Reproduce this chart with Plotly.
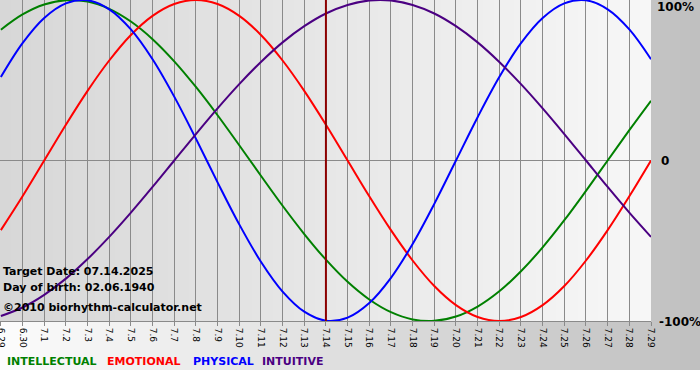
import plotly.graph_objects as go

# ---- data ----
days = ["6.29", "6.30", "7.1", "7.2", "7.3", "7.4", "7.5", "7.6", "7.7", "7.8",
        "7.9", "7.10", "7.11", "7.12", "7.13", "7.14", "7.15", "7.16", "7.17",
        "7.18", "7.19", "7.20", "7.21", "7.22", "7.23", "7.24", "7.25", "7.26",
        "7.27", "7.28", "7.29"]

intellectual = [81.5, 91.0, 97.2, 99.9, 99.0, 94.5, 86.6, 75.6, 61.8, 45.8, 28.2,
                9.5, -9.5, -28.2, -45.8, -61.8, -75.6, -86.6, -94.5, -99.0, -99.9,
                -97.2, -91.0, -81.5, -69.0, -54.1, -37.2, -18.9, 0.0, 18.9, 37.2]
emotional = [-43.4, -22.3, 0.0, 22.3, 43.4, 62.3, 78.2, 90.1, 97.5, 100.0, 97.5,
             90.1, 78.2, 62.3, 43.4, 22.3, 0.0, -22.3, -43.4, -62.3, -78.2, -90.1,
             -97.5, -100.0, -97.5, -90.1, -78.2, -62.3, -43.4, -22.3, 0.0]
physical = [52.0, 73.1, 88.8, 97.9, 99.8, 94.2, 81.7, 63.1, 39.8, 13.6, -13.6,
            -39.8, -63.1, -81.7, -94.2, -99.8, -97.9, -88.8, -73.1, -52.0, -27.0,
            0.0, 27.0, 52.0, 73.1, 88.8, 97.9, 99.8, 94.2, 81.7, 63.1]
intuitive = [-96.9, -91.6, -83.7, -73.6, -61.4, -47.6, -32.5, -16.5, 0.0, 16.5,
             32.5, 47.6, 61.4, 73.6, 83.7, 91.6, 96.9, 99.7, 99.7, 96.9, 91.6,
             83.7, 73.6, 61.4, 47.6, 32.5, 16.5, 0.0, -16.5, -32.5, -47.6]

target_day = "7.14"
target_text = "Target Date: 07.14.2025"
birth_text = "Day of birth: 02.06.1940"
copyright_text = "©2010 biorhythm-calculator.net"
y_labels = ["100%", "0", "-100%"]

series = [
    ("INTELLECTUAL", intellectual, "#008000"),
    ("EMOTIONAL", emotional, "#ff0000"),
    ("PHYSICAL", physical, "#0000ff"),
    ("INTUITIVE", intuitive, "#4b0082"),
]

W, H = 700, 380
ML, MR, MT, MB = 0, 49, 0, 59
PW = W - ML - MR
PH = H - MT - MB

xs = list(range(len(days)))

fig = go.Figure()
for name, vals, col in series:
    fig.add_trace(go.Scatter(x=xs, y=vals, mode="lines", name=name,
                             line=dict(color=col, width=2, shape="spline", smoothing=1.0),
                             hoverinfo="skip", showlegend=False))

# ---- background gradients (decoration) ----
shapes = []
def gray(v):
    v = int(round(v))
    return f"rgb({v},{v},{v})"

# outer area: white (left) -> gray (right), down to y=370 px
n_out = 70
y_bot = -(370 - PH) / PH
for k in range(n_out):
    x0 = k * W / n_out
    x1 = (k + 1) * W / n_out + 1
    c = 252 - (252 - 192) * (k + 0.5) / n_out
    shapes.append(dict(type="rect", xref="paper", yref="paper",
                       x0=x0 / PW, x1=x1 / PW, y0=y_bot, y1=1.0,
                       fillcolor=gray(c), line=dict(width=0), layer="below"))
# plot area: gray (left) -> near white (right)
n_in = 62
for k in range(n_in):
    x0 = k * PW / n_in
    x1 = min((k + 1) * PW / n_in + 1, PW)
    c = 215 + (247 - 215) * (k + 0.5) / n_in
    shapes.append(dict(type="rect", xref="paper", yref="paper",
                       x0=x0 / PW, x1=x1 / PW, y0=0, y1=1,
                       fillcolor=gray(c), line=dict(width=0), layer="below"))
fig.update_layout(shapes=shapes)

# target date line
fig.add_vline(x=days.index(target_day), line=dict(color="#8b0000", width=2))

fig.update_xaxes(range=[-0.04, len(days) - 1], tickmode="array", tickvals=xs,
                 ticktext=days, tickangle=90, showgrid=True, gridcolor="#8a8a8a",
                 gridwidth=1, ticks="outside", ticklen=4, tickcolor="#8a8a8a",
                 showline=True, linecolor="#8a8a8a", mirror=True, zeroline=False,
                 ticklabeloverflow="allow", automargin=False,
                 tickfont=dict(family="DejaVu Sans", size=9, color="#000000"))
fig.update_yaxes(range=[-100, 100], tickmode="array", tickvals=[-100, 0, 100],
                 showticklabels=False, showgrid=True, gridcolor="#8a8a8a",
                 zeroline=False, showline=False, automargin=False)

ann = []
txtfont = dict(family="DejaVu Sans", size=11, color="#000000")
for t, ypx in zip([target_text, birth_text, copyright_text], [271, 287, 307]):
    ann.append(dict(text=f"<b>{t}</b>", xref="paper", yref="paper",
                    x=1 / PW, y=1 - ypx / PH, xanchor="left", yanchor="middle",
                    showarrow=False, font=txtfont))
for lab, ypx, xpx in zip(y_labels, [7, 161, 322], [655, 659, 657]):
    ann.append(dict(text=f"<b>{lab}</b>", xref="paper", yref="paper",
                    x=xpx / PW, y=1 - ypx / PH, xanchor="left", yanchor="middle",
                    showarrow=False, font=dict(family="DejaVu Sans", size=12, color="#000000")))
leg_x = [5, 105, 191, 260]
for (name, vals, col), lx in zip(series, leg_x):
    ann.append(dict(text=f"<b>{name}</b>", xref="paper", yref="paper", x=lx / PW,
                    y=1 - 362 / PH, xanchor="left", yanchor="middle", showarrow=False,
                    font=dict(family="DejaVu Sans", size=11, color=col)))

fig.update_layout(width=W, height=H, margin=dict(l=ML, r=MR, t=MT, b=MB, pad=0),
                  paper_bgcolor="#ffffff", plot_bgcolor="rgba(0,0,0,0)",
                  annotations=ann, showlegend=False)

fig.write_html("out.html", config={"displayModeBar": False},
               post_script="document.body.style.margin='0px';document.body.style.overflow='hidden';")
